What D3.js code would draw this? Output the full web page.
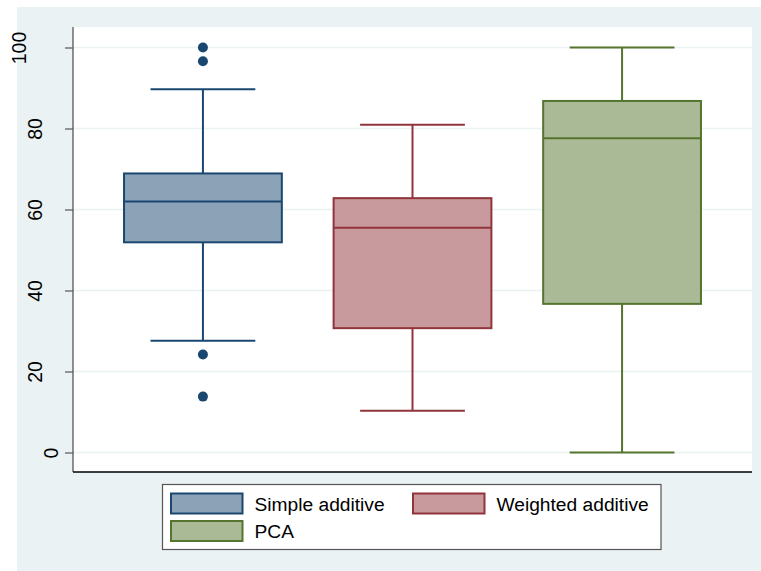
<!DOCTYPE html>
<html>
<head>
<meta charset="utf-8">
<script src="https://cdn.jsdelivr.net/npm/d3@7"></script>
<style>
  html, body { margin: 0; padding: 0; background: #ffffff; }
  svg { display: block; font-family: "Liberation Sans", Arial, sans-serif; }
</style>
</head>
<body>
<svg id="chart" width="761" height="571"></svg>
<script>
// ---- data ----
const categories = ["Simple additive", "Weighted additive", "PCA"];
const q1Values = [51.9, 30.7, 36.7];
const medianValues = [62.0, 55.5, 77.6];
const q3Values = [68.9, 62.8, 86.8];
const whiskerLow = [27.6, 10.3, 0];
const whiskerHigh = [89.7, 80.9, 100];
const outlierValues = [[100, 96.6, 24.2, 13.8], [], []];
const yTicks = [0, 20, 40, 60, 80, 100];
const strokeColors = ["#1A476F", "#90353B", "#55752F"];
const fillColors = ["#8CA3B7", "#C89A9D", "#AABA97"];

// ---- layout ----
const svg = d3.select("#chart");
const W = 761, H = 571;
const plot = { left: 73, right: 752, top: 27, bottom: 472 };

svg.append("rect").attr("x", 17).attr("y", 7).attr("width", W - 17).attr("height", H - 7)
  .attr("fill", "#EAF2F3");
svg.append("rect").attr("x", plot.left).attr("y", plot.top)
  .attr("width", plot.right - plot.left).attr("height", plot.bottom - plot.top)
  .attr("fill", "#ffffff");

const x = d3.scalePoint().domain(categories).range([plot.left, plot.right]).padding(0.62);
const step = x.step();
const y = d3.scaleLinear().domain([0, 100]).range([452.5, 47.5]);

// gridlines
svg.append("g").selectAll("line").data(yTicks).join("line")
  .attr("x1", plot.left).attr("x2", plot.right)
  .attr("y1", d => y(d)).attr("y2", d => y(d))
  .attr("stroke", "#EAF2F3").attr("stroke-width", 1.5);

// y axis
const yAxis = svg.append("g").attr("transform", `translate(${plot.left},0)`)
  .call(d3.axisLeft(y).tickValues(yTicks).tickSize(8).tickPadding(0).tickFormat(d3.format("d")));
yAxis.attr("font-size", null).attr("font-family", null);
yAxis.select(".domain").remove();
yAxis.selectAll(".tick line").attr("stroke", "#555").attr("stroke-width", 1.2);
yAxis.selectAll(".tick text")
  .attr("font-size", 19.5).attr("fill", "#000")
  .attr("text-anchor", "middle")
  .attr("transform", function(d) {
    const n = String(d).length;
    const bx = (58 - 16 * (n - 1)) - plot.left;
    return `translate(${bx},0) rotate(-90)`;
  })
  .attr("x", 0).attr("y", 0).attr("dy", 0);

// axis lines
svg.append("line").attr("x1", plot.left).attr("x2", plot.left)
  .attr("y1", plot.top).attr("y2", plot.bottom).attr("stroke", "#555").attr("stroke-width", 1.3);
svg.append("line").attr("x1", plot.left).attr("x2", plot.right)
  .attr("y1", plot.bottom).attr("y2", plot.bottom).attr("stroke", "#000").attr("stroke-width", 1.3);

// boxes
const boxW = step * 0.753;
const capW = step * 0.5;
const groups = svg.append("g").selectAll("g").data(categories).join("g");

groups.each(function(c, i) {
  const g = d3.select(this);
  const cx = x(c);
  // whiskers
  g.append("line").attr("x1", cx).attr("x2", cx)
    .attr("y1", y(whiskerHigh[i])).attr("y2", y(q3Values[i]))
    .attr("stroke", strokeColors[i]).attr("stroke-width", 2);
  g.append("line").attr("x1", cx).attr("x2", cx)
    .attr("y1", y(q1Values[i])).attr("y2", y(whiskerLow[i]))
    .attr("stroke", strokeColors[i]).attr("stroke-width", 2);
  g.append("line").attr("x1", cx - capW / 2).attr("x2", cx + capW / 2)
    .attr("y1", y(whiskerHigh[i])).attr("y2", y(whiskerHigh[i]))
    .attr("stroke", strokeColors[i]).attr("stroke-width", 2);
  g.append("line").attr("x1", cx - capW / 2).attr("x2", cx + capW / 2)
    .attr("y1", y(whiskerLow[i])).attr("y2", y(whiskerLow[i]))
    .attr("stroke", strokeColors[i]).attr("stroke-width", 2);
  // box
  g.append("rect").attr("x", cx - boxW / 2).attr("width", boxW)
    .attr("y", y(q3Values[i])).attr("height", y(q1Values[i]) - y(q3Values[i]))
    .attr("fill", fillColors[i]).attr("stroke", strokeColors[i]).attr("stroke-width", 2);
  // median
  g.append("line").attr("x1", cx - boxW / 2).attr("x2", cx + boxW / 2)
    .attr("y1", y(medianValues[i])).attr("y2", y(medianValues[i]))
    .attr("stroke", strokeColors[i]).attr("stroke-width", 2);
  // outliers
  g.selectAll("circle").data(outlierValues[i]).join("circle")
    .attr("cx", cx).attr("cy", d => y(d)).attr("r", 5)
    .attr("fill", strokeColors[i]);
});

// legend
const legend = svg.append("g");
legend.append("rect").attr("x", 162.5).attr("y", 484.5).attr("width", 498.5).attr("height", 65)
  .attr("fill", "#fff").attr("stroke", "#555").attr("stroke-width", 1.2);
const legPos = [[171, 493.5], [413, 493.5], [171, 521]];
categories.forEach((c, i) => {
  const [lx, ly] = legPos[i];
  legend.append("rect").attr("x", lx).attr("y", ly).attr("width", 71.5).attr("height", 20)
    .attr("fill", fillColors[i]).attr("stroke", strokeColors[i]).attr("stroke-width", 2);
  legend.append("text").attr("x", lx + 83.5).attr("y", ly + 17)
    .attr("font-size", 19.2).attr("fill", "#000").text(c);
});
</script>
</body>
</html>
